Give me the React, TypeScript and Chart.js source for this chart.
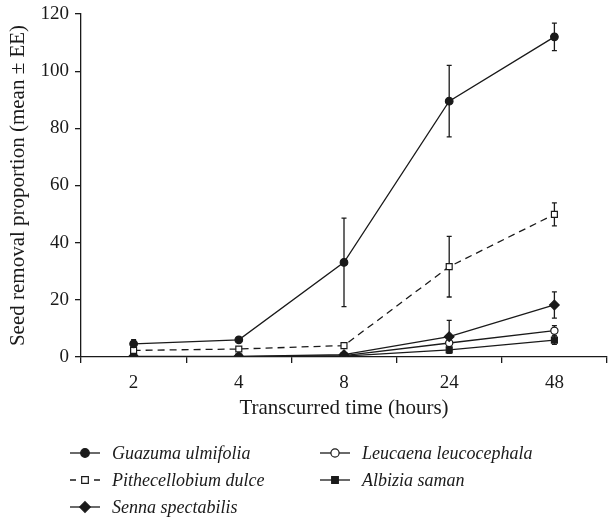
import React, { useEffect, useRef } from "react";
import { Chart, registerables } from "chart.js";

Chart.register(...registerables);

const categories = ["2", "4", "8", "24", "48"];
const yTicks = [0, 20, 40, 60, 80, 100, 120];

const guazuma = [4.6, 6.0, 33.1, 89.5, 112.0];
const guazumaErr = [1.5, 0.5, 15.5, 12.5, 4.8];
const pithecellobium = [2.3, 2.8, 4.0, 31.6, 49.9];
const pithecellobiumErr = [0, 0, 0, 10.6, 4.0];
const senna = [0.2, 0.2, 0.8, 7.1, 18.2];
const sennaErr = [0, 0, 0, 5.7, 4.6];
const leucaena = [0.1, 0.1, 0.5, 4.9, 9.2];
const leucaenaErr = [0, 0, 0, 1.4, 1.8];
const albizia = [0.0, 0.0, 0.3, 2.5, 5.9];
const albiziaErr = [0, 0, 0, 1.1, 1.5];

const seriesNames = [
  "Guazuma ulmifolia",
  "Pithecellobium dulce",
  "Senna spectabilis",
  "Leucaena leucocephala",
  "Albizia saman",
];

const INK = "#1a1a1a";
const FONT = "'Liberation Serif', 'Times New Roman', serif";

function drawMarker(ctx: CanvasRenderingContext2D, style: string, r: number, fill: string, x: number, y: number) {
  ctx.beginPath();
  if (style === "circle") {
    ctx.arc(x, y, r, 0, Math.PI * 2);
  } else if (style === "rect") {
    const s = r * Math.SQRT1_2;
    ctx.rect(x - s, y - s, 2 * s, 2 * s);
  } else {
    ctx.moveTo(x, y - r);
    ctx.lineTo(x + r, y);
    ctx.lineTo(x, y + r);
    ctx.lineTo(x - r, y);
    ctx.closePath();
  }
  ctx.fillStyle = fill;
  ctx.fill();
  ctx.strokeStyle = INK;
  ctx.lineWidth = 1.2;
  ctx.stroke();
}

export default function App() {
  const ref = useRef<HTMLCanvasElement | null>(null);

  useEffect(() => {
    if (!ref.current) return;
    const errs = [guazumaErr, pithecellobiumErr, sennaErr, leucaenaErr, albiziaErr];

    const errorBars = {
      id: "errorBars",
      beforeDatasetsDraw(chart: any) {
        const ctx = chart.ctx;
        const y = chart.scales.y;
        ctx.save();
        ctx.strokeStyle = INK;
        ctx.lineWidth = 1.3;
        chart.data.datasets.forEach((ds: any, i: number) => {
          const meta = chart.getDatasetMeta(i);
          meta.data.forEach((pt: any, j: number) => {
            const e = errs[i][j];
            if (!e) return;
            const v = ds.data[j];
            const top = y.getPixelForValue(v + e);
            const bot = y.getPixelForValue(v - e);
            const x = pt.x;
            ctx.beginPath();
            ctx.moveTo(x, top);
            ctx.lineTo(x, bot);
            ctx.moveTo(x - 2.5, top);
            ctx.lineTo(x + 2.5, top);
            ctx.moveTo(x - 2.5, bot);
            ctx.lineTo(x + 2.5, bot);
            ctx.stroke();
          });
        });
        ctx.restore();
      },
    };

    const legendPlugin = {
      id: "customLegend",
      afterDraw(chart: any) {
        const ctx = chart.ctx;
        const items = [
          { x: 70, y: 453, i: 0 },
          { x: 70, y: 480, i: 1 },
          { x: 70, y: 507, i: 2 },
          { x: 320, y: 453, i: 3 },
          { x: 320, y: 480, i: 4 },
        ];
        ctx.save();
        items.forEach((it) => {
          const ds = chart.data.datasets[it.i];
          ctx.strokeStyle = INK;
          ctx.lineWidth = 1.3;
          ctx.setLineDash([]);
          ctx.beginPath();
          if (ds.borderDash && ds.borderDash.length) {
            ctx.moveTo(it.x, it.y);
            ctx.lineTo(it.x + 6, it.y);
            ctx.moveTo(it.x + 24, it.y);
            ctx.lineTo(it.x + 30, it.y);
          } else {
            ctx.moveTo(it.x, it.y);
            ctx.lineTo(it.x + 30, it.y);
          }
          ctx.stroke();
          drawMarker(ctx, ds.pointStyle, ds.pointRadius + 0.5, ds.pointBackgroundColor, it.x + 15, it.y);
          ctx.fillStyle = INK;
          ctx.font = `italic 18px ${FONT}`;
          ctx.textBaseline = "middle";
          ctx.textAlign = "left";
          ctx.fillText(seriesNames[it.i], it.x + 42, it.y + 1);
        });
        ctx.restore();
      },
    };

    const mk = (label: string, data: number[], style: string, fill: string, radius: number, dash?: number[]) => ({
      label,
      data,
      borderColor: INK,
      borderWidth: 1.3,
      borderDash: dash,
      pointStyle: style,
      pointRadius: radius,
      pointBackgroundColor: fill,
      pointBorderColor: INK,
      pointBorderWidth: 1.2,
      tension: 0,
      fill: false,
    });

    const chart = new Chart(ref.current, {
      type: "line",
      data: {
        labels: categories,
        datasets: [
          mk(seriesNames[0], guazuma, "circle", INK, 3.8),
          mk(seriesNames[1], pithecellobium, "rect", "#ffffff", 4.2, [7, 5]),
          mk(seriesNames[2], senna, "rectRot", INK, 4.8),
          mk(seriesNames[3], leucaena, "circle", "#ffffff", 3.6),
          mk(seriesNames[4], albizia, "rect", INK, 4.2),
        ] as any,
      },
      options: {
        animation: false,
        responsive: false,
        layout: { autoPadding: false, padding: { top: 14, right: 2, bottom: 97, left: 0 } },
        plugins: { legend: { display: false }, tooltip: { enabled: false } },
        scales: {
          x: {
            offset: true,
            grid: { offset: true, drawOnChartArea: false, drawTicks: true, tickLength: 6, color: INK, lineWidth: 1.3 },
            border: { display: true, color: INK, width: 1.3 },
            ticks: { color: INK, font: { family: FONT, size: 19 }, padding: 9 },
            title: { display: true, text: "Transcurred time (hours)", color: INK, font: { family: FONT, size: 21 }, padding: { top: 0, bottom: 0 } },
            afterFit: (s: any) => { s.height = 64; s.paddingLeft = 0; s.paddingRight = 0; },
          },
          y: {
            min: 0,
            max: 120,
            afterBuildTicks: (s: any) => { s.ticks = yTicks.map((v) => ({ value: v })); },
            grid: { drawOnChartArea: false, drawTicks: true, tickLength: 6, color: INK, lineWidth: 1.3 },
            border: { display: true, color: INK, width: 1.3 },
            ticks: { color: INK, font: { family: FONT, size: 19 }, padding: 6 },
            title: { display: true, text: "Seed removal proportion (mean ± EE)", color: INK, font: { family: FONT, size: 21 }, padding: { top: 6, bottom: 0 } },
            afterFit: (s: any) => { s.width = 81; s.paddingTop = 0; s.paddingBottom = 0; },
          },
        },
      } as any,
      plugins: [errorBars, legendPlugin],
    });
    return () => chart.destroy();
  }, []);

  return (
    <div style={{ position: "absolute", left: 0, top: 0, width: 609, height: 518, background: "#fff" }}>
      <canvas ref={ref} width={609} height={518} style={{ display: "block" }} />
    </div>
  );
}
